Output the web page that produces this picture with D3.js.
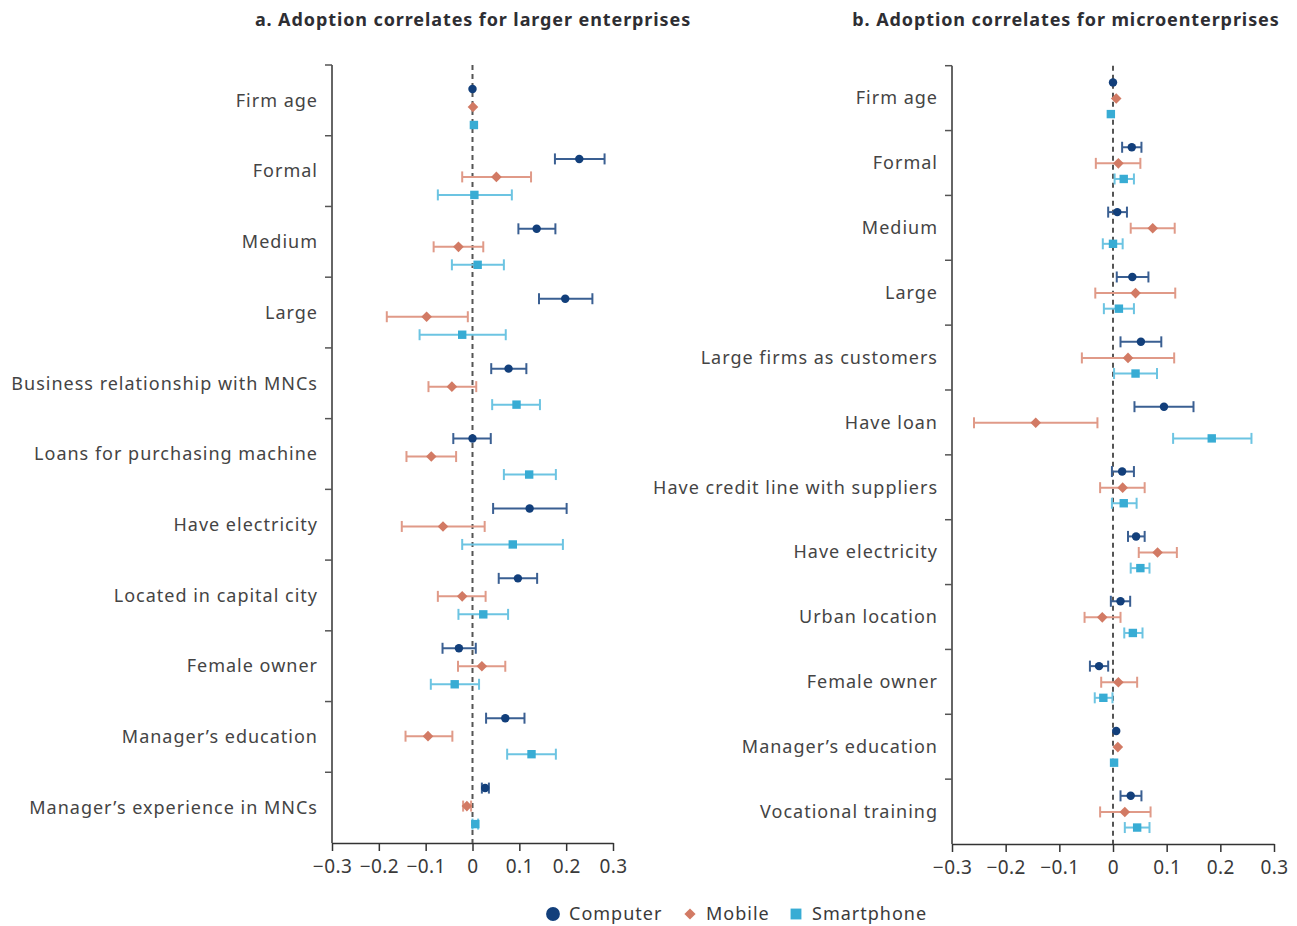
<!DOCTYPE html>
<html lang="en">
<head>
<meta charset="UTF-8">
<title>Adoption correlates</title>
<style>
  body { margin: 0; background: #fff; }
  svg text { font-family: "Noto Sans", "DejaVu Sans", sans-serif; fill: #3a3a3a; }
  .title { font-weight: 700; font-size: 18px; letter-spacing: 0.9px; fill: #2e2e33; }
  .cat { font-size: 18px; letter-spacing: 1px; fill: #444; }
  .axis text { font-size: 19px; letter-spacing: 0.4px; fill: #3a3a3a; }
  .axis path, .axis line { stroke: #333; stroke-width: 1.5; }
  .legend text { font-size: 18px; letter-spacing: 1px; }
</style>
<script src="https://cdn.jsdelivr.net/npm/d3@7"></script>
</head>
<body>
<script>
// series names and colours
var series = ["Computer", "Mobile", "Smartphone"];
var colours = { Computer: "#123f7b", Mobile: "#d27a64", Smartphone: "#38acd4" };
var barColours = { Computer: "#3a5f92", Mobile: "#e09a88", Smartphone: "#6cc4e2" };

var xTicks = [-0.3, -0.2, -0.1, 0, 0.1, 0.2, 0.3];

// panel a: larger enterprises  [estimate, low, high]
var catsA = ["Firm age", "Formal", "Medium", "Large", "Business relationship with MNCs",
  "Loans for purchasing machine", "Have electricity", "Located in capital city",
  "Female owner", "Manager\u2019s education", "Manager\u2019s experience in MNCs"];
var computerA = [[0.000, 0.000, 0.000], [0.228, 0.176, 0.282], [0.137, 0.098, 0.177], [0.198, 0.142, 0.256],
  [0.077, 0.040, 0.115], [0.000, -0.041, 0.039], [0.122, 0.044, 0.201], [0.097, 0.056, 0.138],
  [-0.029, -0.064, 0.007], [0.070, 0.029, 0.111], [0.027, 0.020, 0.035]];
var mobileA = [[0.001, 0.001, 0.001], [0.051, -0.022, 0.125], [-0.030, -0.083, 0.023], [-0.098, -0.183, -0.010],
  [-0.044, -0.094, 0.008], [-0.088, -0.141, -0.035], [-0.063, -0.151, 0.026], [-0.022, -0.074, 0.028],
  [0.020, -0.031, 0.070], [-0.095, -0.143, -0.043], [-0.012, -0.020, -0.003]];
var smartA = [[0.003, 0.003, 0.003], [0.004, -0.074, 0.084], [0.011, -0.044, 0.067], [-0.022, -0.113, 0.071],
  [0.094, 0.042, 0.144], [0.121, 0.067, 0.178], [0.086, -0.022, 0.193], [0.023, -0.030, 0.076],
  [-0.038, -0.089, 0.014], [0.126, 0.074, 0.178], [0.006, 0.000, 0.012]];

// panel b: microenterprises
var catsB = ["Firm age", "Formal", "Medium", "Large", "Large firms as customers", "Have loan",
  "Have credit line with suppliers", "Have electricity", "Urban location", "Female owner",
  "Manager\u2019s education", "Vocational training"];
var computerB = [[0.000, 0.000, 0.000], [0.035, 0.017, 0.053], [0.008, -0.009, 0.026], [0.036, 0.007, 0.066],
  [0.052, 0.014, 0.090], [0.095, 0.040, 0.150], [0.017, -0.002, 0.039], [0.043, 0.028, 0.059],
  [0.014, -0.004, 0.032], [-0.026, -0.043, -0.009], [0.006, 0.006, 0.006], [0.033, 0.014, 0.053]];
var mobileB = [[0.006, 0.006, 0.006], [0.010, -0.032, 0.051], [0.074, 0.033, 0.115], [0.042, -0.033, 0.116],
  [0.028, -0.058, 0.114], [-0.144, -0.259, -0.029], [0.018, -0.024, 0.059], [0.083, 0.048, 0.119],
  [-0.020, -0.053, 0.014], [0.010, -0.022, 0.045], [0.009, 0.009, 0.009], [0.022, -0.024, 0.070]];
var smartB = [[-0.004, -0.004, -0.004], [0.020, 0.003, 0.039], [0.000, -0.019, 0.018], [0.011, -0.017, 0.039],
  [0.042, 0.002, 0.082], [0.184, 0.112, 0.258], [0.020, -0.002, 0.044], [0.051, 0.033, 0.068],
  [0.037, 0.021, 0.055], [-0.018, -0.034, -0.001], [0.002, 0.002, 0.002], [0.045, 0.022, 0.068]];

var W = 1297, H = 926;
var svg = d3.select("body").append("svg").attr("width", W).attr("height", H);

var minus = function(v) { return v === 0 ? "0" : d3.format(".1f")(v).replace("-", "\u2212"); };
var shapes = { Computer: d3.symbolCircle, Mobile: d3.symbolDiamond2, Smartphone: d3.symbolSquare2 };
var sizes = { Computer: 56, Mobile: 72, Smartphone: 90 };

function panel(opt) {
  var x = d3.scaleLinear().domain([-0.3, 0.3]).range([opt.x0, opt.x1]);
  var y = d3.scaleBand().domain(opt.cats).range([opt.y0, opt.y1]);
  var yMark = d3.scaleBand().domain(opt.cats).range(opt.markRange);
  var off = d3.scaleOrdinal().domain(series).range(opt.offsets);
  var g = svg.append("g");

  g.append("text").attr("class", "title")
    .attr("x", opt.titleX).attr("y", 26).attr("text-anchor", "middle").text(opt.title);

  // bottom axis
  g.append("g").attr("class", "axis")
    .attr("transform", "translate(0," + opt.y1 + ")")
    .call(d3.axisBottom(x).tickValues(xTicks).tickFormat(minus).tickSize(8).tickPadding(9).tickSizeOuter(0));

  // left axis: line plus ticks at band edges
  g.append("line").attr("x1", opt.x0).attr("x2", opt.x0).attr("y1", opt.y0).attr("y2", opt.y1)
    .attr("stroke", "#333").attr("stroke-width", 1.5);
  g.selectAll(".ytick").data(d3.range(opt.cats.length)).enter().append("line")
    .attr("x1", opt.x0 - 7).attr("x2", opt.x0)
    .attr("y1", function(i) { return opt.y0 + i * y.step(); })
    .attr("y2", function(i) { return opt.y0 + i * y.step(); })
    .attr("stroke", "#555").attr("stroke-width", 1.5);

  g.selectAll(".cat").data(opt.cats).enter().append("text").attr("class", "cat")
    .attr("x", opt.x0 - 14).attr("y", function(d) { return y(d) + y.bandwidth() / 2; })
    .attr("dy", "0.35em").attr("text-anchor", "end").text(function(d) { return d; });

  // zero line
  g.append("line").attr("x1", x(0)).attr("x2", x(0)).attr("y1", opt.y0).attr("y2", opt.y1)
    .attr("stroke", "#555").attr("stroke-width", 2).attr("stroke-dasharray", "5,4");

  series.forEach(function(s) {
    var rows = opt.data[s].map(function(v, i) { return { cat: opt.cats[i], est: v[0], lo: v[1], hi: v[2] }; });
    var gy = function(d) { return yMark(d.cat) + off(s); };
    var bars = rows.filter(function(d) { return d.hi - d.lo > 0.004; });
    var eb = g.append("g").attr("stroke", barColours[s]).attr("stroke-width", 2);
    eb.selectAll(".bar").data(bars).enter().append("line")
      .attr("x1", function(d) { return x(d.lo); }).attr("x2", function(d) { return x(d.hi); })
      .attr("y1", gy).attr("y2", gy);
    ["lo", "hi"].forEach(function(k) {
      eb.selectAll(".cap" + k).data(bars).enter().append("line")
        .attr("x1", function(d) { return x(d[k]); }).attr("x2", function(d) { return x(d[k]); })
        .attr("y1", function(d) { return gy(d) - 5.5; }).attr("y2", function(d) { return gy(d) + 5.5; });
    });
    g.selectAll(".m" + s).data(rows).enter().append("path")
      .attr("d", d3.symbol().type(shapes[s]).size(sizes[s]))
      .attr("transform", function(d) { return "translate(" + x(d.est) + "," + gy(d) + ")"; })
      .attr("fill", colours[s]);
  });
}

panel({
  title: "a. Adoption correlates for larger enterprises", titleX: 473,
  cats: catsA, data: { Computer: computerA, Mobile: mobileA, Smartphone: smartA },
  x0: 332, x1: 613, y0: 65, y1: 843, markRange: [65, 834], offsets: [24, 42, 60]
});
panel({
  title: "b. Adoption correlates for microenterprises", titleX: 1066,
  cats: catsB, data: { Computer: computerB, Mobile: mobileB, Smartphone: smartB },
  x0: 952, x1: 1274, y0: 65.7, y1: 844, markRange: [65.7, 844], offsets: [16.7, 32.8, 48.4]
});

// legend
var leg = svg.append("g").attr("class", "legend").attr("transform", "translate(0,914)");
var legX = { Computer: 553, Mobile: 690, Smartphone: 796 };
var legSizes = { Computer: 150, Mobile: 80, Smartphone: 150 };
series.forEach(function(s) {
  leg.append("path").attr("d", d3.symbol().type(shapes[s]).size(legSizes[s]))
    .attr("transform", "translate(" + legX[s] + ",0)").attr("fill", colours[s]);
  leg.append("text").attr("x", legX[s] + 16).attr("y", 0).attr("dy", "0.35em")
    .attr("fill", "#3a3a3a").text(s);
});
</script>
</body>
</html>
